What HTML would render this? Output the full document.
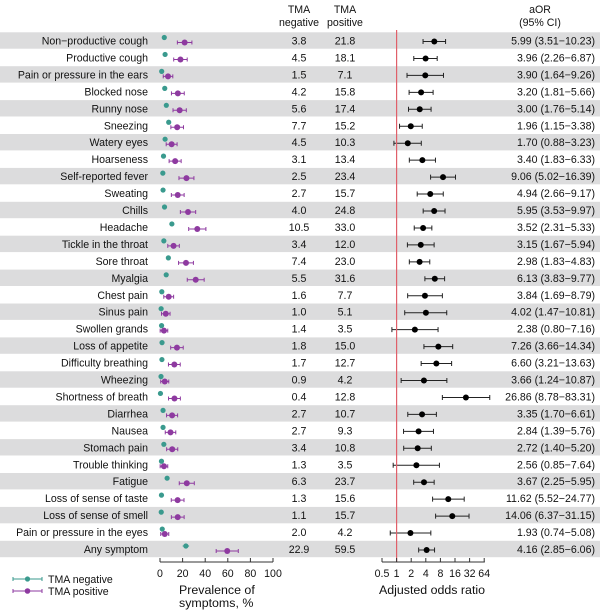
<!DOCTYPE html>
<html><head><meta charset="utf-8"><style>
body{margin:0;background:#fff}
svg{display:block;font-family:"Liberation Sans",Arial,sans-serif}
</style></head><body>
<svg id="s" width="600" height="611" viewBox="0 0 600 611"></svg>
<script>
const rows=[
["Non\u2212productive cough",3.8,21.8,"5.99 (3.51\u221210.23)",5.99,3.51,10.23],
["Productive cough",4.5,18.1,"3.96 (2.26\u22126.87)",3.96,2.26,6.87],
["Pain or pressure in the ears",1.5,7.1,"3.90 (1.64\u22129.26)",3.90,1.64,9.26],
["Blocked nose",4.2,15.8,"3.20 (1.81\u22125.66)",3.20,1.81,5.66],
["Runny nose",5.6,17.4,"3.00 (1.76\u22125.14)",3.00,1.76,5.14],
["Sneezing",7.7,15.2,"1.96 (1.15\u22123.38)",1.96,1.15,3.38],
["Watery eyes",4.5,10.3,"1.70 (0.88\u22123.23)",1.70,0.88,3.23],
["Hoarseness",3.1,13.4,"3.40 (1.83\u22126.33)",3.40,1.83,6.33],
["Self-reported fever",2.5,23.4,"9.06 (5.02\u221216.39)",9.06,5.02,16.39],
["Sweating",2.7,15.7,"4.94 (2.66\u22129.17)",4.94,2.66,9.17],
["Chills",4.0,24.8,"5.95 (3.53\u22129.97)",5.95,3.53,9.97],
["Headache",10.5,33.0,"3.52 (2.31\u22125.33)",3.52,2.31,5.33],
["Tickle in the throat",3.4,12.0,"3.15 (1.67\u22125.94)",3.15,1.67,5.94],
["Sore throat",7.4,23.0,"2.98 (1.83\u22124.83)",2.98,1.83,4.83],
["Myalgia",5.5,31.6,"6.13 (3.83\u22129.77)",6.13,3.83,9.77],
["Chest pain",1.6,7.7,"3.84 (1.69\u22128.79)",3.84,1.69,8.79],
["Sinus pain",1.0,5.1,"4.02 (1.47\u221210.81)",4.02,1.47,10.81],
["Swollen grands",1.4,3.5,"2.38 (0.80\u22127.16)",2.38,0.80,7.16],
["Loss of appetite",1.8,15.0,"7.26 (3.66\u221214.34)",7.26,3.66,14.34],
["Difficulty breathing",1.7,12.7,"6.60 (3.21\u221213.63)",6.60,3.21,13.63],
["Wheezing",0.9,4.2,"3.66 (1.24\u221210.87)",3.66,1.24,10.87],
["Shortness of  breath",0.4,12.8,"26.86 (8.78\u221283.31)",26.86,8.78,83.31],
["Diarrhea",2.7,10.7,"3.35 (1.70\u22126.61)",3.35,1.70,6.61],
["Nausea",2.7,9.3,"2.84 (1.39\u22125.76)",2.84,1.39,5.76],
["Stomach pain",3.4,10.8,"2.72 (1.40\u22125.20)",2.72,1.40,5.20],
["Trouble thinking",1.3,3.5,"2.56 (0.85\u22127.64)",2.56,0.85,7.64],
["Fatigue",6.3,23.7,"3.67 (2.25\u22125.95)",3.67,2.25,5.95],
["Loss of sense of taste",1.3,15.6,"11.62 (5.52\u221224.77)",11.62,5.52,24.77],
["Loss of sense of smell",1.1,15.7,"14.06 (6.37\u221231.15)",14.06,6.37,31.15],
["Pain or pressure in the eyes",2.0,4.2,"1.93 (0.74\u22125.08)",1.93,0.74,5.08],
["Any symptom",22.9,59.5,"4.16 (2.85\u22126.06)",4.16,2.85,6.06]];
const G="#3a9a8e",P="#8e3aa0";
let h="";
const FS=10.6;
const px=v=>160+v*1.13;
const ox=v=>396.6+Math.log2(v)*14.6;
rows.forEach((r,i)=>{
 const y=40.5+i*16.95;
 if(i%2==0)h+=`<rect x="0" y="${y-8.2}" width="600" height="16.4" fill="#dcdcdd"/>`;
 h+=`<text x="148" y="${y+4}" font-size="${FS}" text-anchor="end" fill="#111">${r[0]}</text>`;
 h+=`<text x="299" y="${y+4}" font-size="${FS}" text-anchor="middle" fill="#111">${r[1].toFixed(1)}</text>`;
 h+=`<text x="345" y="${y+4}" font-size="${FS}" text-anchor="middle" fill="#111">${r[2].toFixed(1)}</text>`;
 h+=`<text x="595" y="${y+4}" font-size="${FS}" text-anchor="end" fill="#111">${r[3]}</text>`;
 const gw=Math.max(0.6,1.2*Math.sqrt(r[1])/2), pw=1.3+1.1*Math.sqrt(r[2]);
 const gy=y-3,py=y+2;
 h+=`<line x1="${px(r[1]-gw)}" x2="${px(r[1]+gw)}" y1="${gy}" y2="${gy}" stroke="${G}"/><circle cx="${px(r[1])}" cy="${gy}" r="2.6" fill="${G}"/>`;
 const a=px(Math.max(0,r[2]-pw)),b=px(r[2]+pw);
 h+=`<path d="M${a} ${py}H${b}M${a} ${py-2}v4M${b} ${py-2}v4" stroke="${P}" fill="none"/><circle cx="${px(r[2])}" cy="${py}" r="3" fill="${P}"/>`;
 const l=ox(r[5]),u=ox(r[6]),m=ox(r[4]);
 h+=`<path d="M${l} ${y+1}H${u}M${l} ${y-1.5}v5M${u} ${y-1.5}v5" stroke="#222" fill="none"/><circle cx="${m}" cy="${y+1}" r="3" fill="#000"/>`;
});
h+=`<line x1="396.6" x2="396.6" y1="30" y2="562" stroke="#e0606a" stroke-width="1.2"/>`;
h+=`<g font-size="${FS}" fill="#111" text-anchor="middle"><text x="299" y="13">TMA</text><text x="299" y="26">negative</text><text x="345" y="13">TMA</text><text x="345" y="26">positive</text><text x="540" y="13">aOR</text><text x="540" y="26">(95% CI)</text></g>`;
h+=`<path d="M160 562H273" stroke="#333"/>`;
for(let v=0;v<=100;v+=20){h+=`<line x1="${px(v)}" x2="${px(v)}" y1="558" y2="562" stroke="#333"/><text x="${px(v)}" y="577" font-size="${FS}" text-anchor="middle" fill="#111">${v}</text>`;}
h+=`<text x="179" y="594" font-size="12.4" fill="#111">Prevalence of</text><text x="179" y="607" font-size="12.4" fill="#111">symptoms, %</text>`;
h+=`<path d="M382 562H484.8" stroke="#333"/>`;
[0.5,1,2,4,8,16,32,64].forEach(v=>{h+=`<line x1="${ox(v)}" x2="${ox(v)}" y1="558" y2="562" stroke="#333"/><text x="${ox(v)}" y="577" font-size="${FS}" text-anchor="middle" fill="#111">${v}</text>`;});
h+=`<text x="432" y="594" font-size="12.4" text-anchor="middle" fill="#111">Adjusted odds ratio</text>`;
h+=`<path d="M13 579H42M13 577v4M42 577v4" stroke="${G}"/><circle cx="27.5" cy="579" r="2.6" fill="${G}"/><text x="48" y="583" font-size="${FS}" fill="#111">TMA negative</text>`;
h+=`<path d="M13 591H42M13 589v4M42 589v4" stroke="${P}"/><circle cx="27.5" cy="591" r="2.8" fill="${P}"/><text x="48" y="595" font-size="${FS}" fill="#111">TMA positive</text>`;
document.getElementById("s").innerHTML=h;
</script>
</body></html>
